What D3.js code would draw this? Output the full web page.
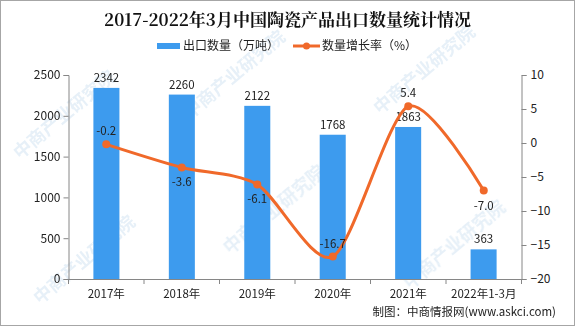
<!DOCTYPE html>
<html><head><meta charset="utf-8">
<script src="https://cdn.jsdelivr.net/npm/d3@7/dist/d3.min.js"></script>
<style>body{margin:0;background:#fff;}svg{display:block;}</style>
</head><body>
<svg id="c" width="575" height="326"></svg>
<script>
const categories = ["2017年","2018年","2019年","2020年","2021年","2022年1-3月"];
const exportVolume = [2342, 2260, 2122, 1768, 1863, 363];
const growthRate = [-0.2, -3.6, -6.1, -16.7, 5.4, -7.0];
const leftTicks = [0, 500, 1000, 1500, 2000, 2500];
const rightTicks = [-20, -15, -10, -5, 0, 5, 10];
const growthLabelAbove = [true, false, false, true, true, false];

const svg = d3.select("#c");
const W = 575, H = 326;
const m = {l: 68.5, r: 521.5, t: 75, b: 279};
const font = "'Noto Sans CJK SC', 'DejaVu Sans', sans-serif";
const barColor = "#3d9bee", lineColor = "#f0692a";

svg.append("rect").attr("x",0.5).attr("y",0.5).attr("width",W-1).attr("height",H-1)
  .attr("fill","#fff").attr("stroke","#a6a6a6");

// faint diagonal watermark
const wm = svg.append("g").attr("fill","#9cc3e2").attr("opacity",0.25)
  .attr("font-family",font).attr("font-size",18).attr("font-weight","bold");
[[20,160],[190,120],[380,115],[40,305],[230,255],[410,290]].forEach(([x,y])=>{
  wm.append("text").attr("transform",`translate(${x},${y}) rotate(-40)`).text("中商产业研究院");
});

const x = d3.scaleBand().domain(categories).range([m.l, m.r]).paddingInner(0.655).paddingOuter(0.33);
const band = d3.scaleBand().domain(categories).range([m.l, m.r]);
const yL = d3.scaleLinear().domain([0,2500]).range([m.b, m.t]);
const yR = d3.scaleLinear().domain([-20,10]).range([m.b, m.t]);

// axes
const axL = svg.append("g").attr("transform",`translate(${m.l},0)`)
  .call(d3.axisLeft(yL).tickValues(leftTicks).tickSize(5).tickPadding(3).tickFormat(d3.format("d")));
const axR = svg.append("g").attr("transform",`translate(${m.r},0)`)
  .call(d3.axisRight(yR).tickValues(rightTicks).tickSize(5).tickPadding(4)
    .tickFormat(d => d < 0 ? "−" + Math.abs(d) : d));
const axB = svg.append("g").attr("transform",`translate(0,${m.b})`)
  .call(d3.axisBottom(band).tickSize(0).tickPadding(11));
// band boundary ticks on the bottom axis
svg.append("g").selectAll("line").data(d3.range(categories.length+1)).join("line")
  .attr("x1", i => m.l + i*band.step()).attr("x2", i => m.l + i*band.step())
  .attr("y1", m.b).attr("y2", m.b+5).attr("stroke","#868686");
[axL, axR, axB].forEach(a => {
  a.selectAll("path").attr("stroke","#868686");
  a.selectAll("line").attr("stroke","#868686");
  a.selectAll("text").attr("font-family",font).attr("font-size",12).attr("fill","#222");
});
axB.selectAll("text").attr("font-size",11.5);

// bars
svg.append("g").selectAll("rect").data(exportVolume).join("rect")
  .attr("x",(d,i)=>x(categories[i])).attr("width",x.bandwidth())
  .attr("y",d=>yL(d)).attr("height",d=>yL(0)-yL(d)).attr("fill",barColor);
svg.append("g").selectAll("text").data(exportVolume).join("text")
  .attr("x",(d,i)=>x(categories[i])+x.bandwidth()/2).attr("y",d=>yL(d)-6)
  .attr("text-anchor","middle").attr("font-family",font).attr("font-size",11.5).attr("fill","#222")
  .text(d=>d);

// growth line
const cx = i => band(categories[i]) + band.bandwidth()/2;
const line = d3.line().x((d,i)=>cx(i)).y(d=>yR(d)).curve(d3.curveCardinal.tension(0.2));
svg.append("path").datum(growthRate).attr("d",line).attr("fill","none")
  .attr("stroke",lineColor).attr("stroke-width",3);
svg.append("g").selectAll("circle").data(growthRate).join("circle")
  .attr("cx",(d,i)=>cx(i)).attr("cy",d=>yR(d)).attr("r",4).attr("fill",lineColor);
svg.append("g").selectAll("text").data(growthRate).join("text")
  .attr("x",(d,i)=>cx(i)).attr("y",(d,i)=>growthLabelAbove[i] ? yR(d)-9 : yR(d)+19)
  .attr("text-anchor","middle").attr("font-family",font).attr("font-size",11.5).attr("fill","#222")
  .text(d=>d.toFixed(1));

// title
svg.append("text").attr("x",W/2).attr("y",26).attr("text-anchor","middle")
  .attr("font-family","'Noto Serif CJK SC','Noto Sans CJK SC',serif").attr("font-weight","bold")
  .attr("font-size",17).attr("fill","#111").text("2017-2022年3月中国陶瓷产品出口数量统计情况");

// legend
const lg = svg.append("g").attr("font-family",font).attr("font-size",12).attr("fill","#222");
lg.append("rect").attr("x",157).attr("y",43).attr("width",23).attr("height",6).attr("fill",barColor);
lg.append("text").attr("x",183).attr("y",50).text("出口数量（万吨）");
lg.append("line").attr("x1",293).attr("x2",320).attr("y1",46).attr("y2",46)
  .attr("stroke",lineColor).attr("stroke-width",3);
lg.append("circle").attr("cx",306.5).attr("cy",46).attr("r",3.5).attr("fill",lineColor);
lg.append("text").attr("x",322).attr("y",50).text("数量增长率（%）");

// source
svg.append("text").attr("x",556).attr("y",316).attr("text-anchor","end")
  .attr("font-family",font).attr("font-size",11.5).attr("fill","#222")
  .text("制图：中商情报网(www.askci.com)");
</script>
</body></html>
